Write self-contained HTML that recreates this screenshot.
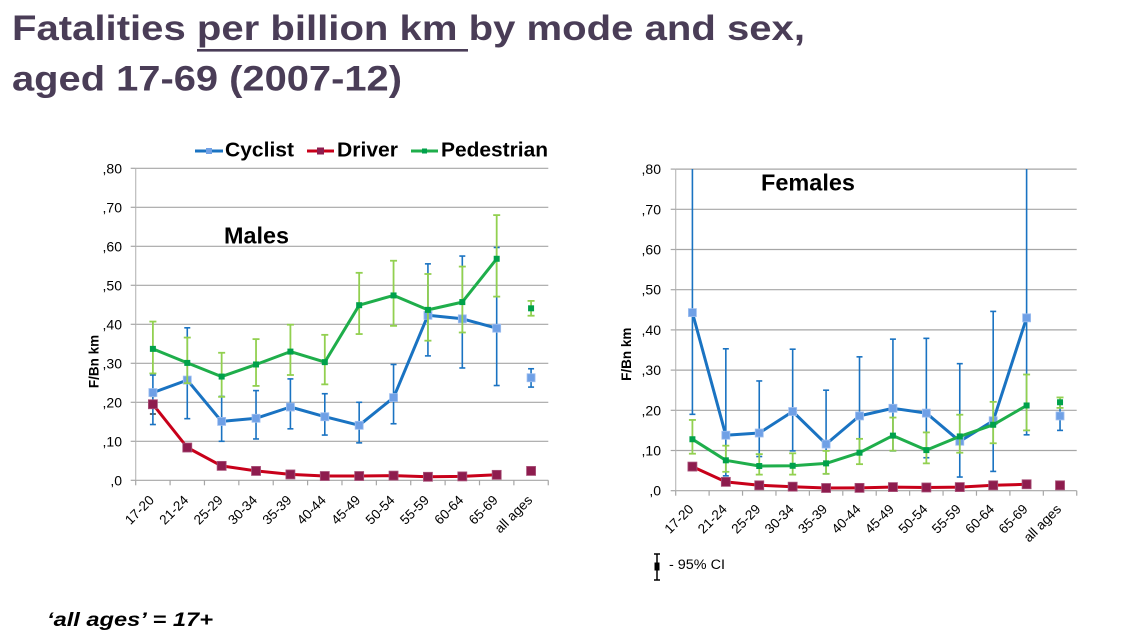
<!DOCTYPE html>
<html><head><meta charset="utf-8"><style>
html,body{margin:0;padding:0;background:#fff;}
svg{display:block;font-family:"Liberation Sans",Arial,sans-serif;}
</style></head><body>
<svg id="s" xmlns="http://www.w3.org/2000/svg" width="1132" height="636" viewBox="0 0 1132 636">
<rect x="0" y="0" width="1132" height="636" fill="#fff"/>
<!-- Title -->
<g fill="#4a3d57" font-weight="bold" font-size="35">
<text x="12" y="40" textLength="793" lengthAdjust="spacingAndGlyphs">Fatalities per billion km by mode and sex,</text>
<text x="12" y="90.7" textLength="390" lengthAdjust="spacingAndGlyphs">aged 17-69 (2007-12)</text>
<rect x="197" y="49" width="271" height="2.6"/>
</g>
<g id="charts"></g>
<!-- Legend -->
<g font-weight="bold" font-size="20" fill="#000">
<line x1="195" y1="151" x2="223" y2="151" stroke="#1a73c2" stroke-width="3"/>
<rect x="206" y="148" width="6" height="6" fill="#6fa0e6"/>
<text x="225" y="156.5" textLength="69" lengthAdjust="spacingAndGlyphs">Cyclist</text>
<line x1="307" y1="151" x2="334" y2="151" stroke="#c8001a" stroke-width="3"/>
<rect x="317" y="147.5" width="7" height="7" fill="#8e1c4e"/>
<text x="337" y="156.5" textLength="61" lengthAdjust="spacingAndGlyphs">Driver</text>
<line x1="411" y1="151" x2="438" y2="151" stroke="#1fae4b" stroke-width="3"/>
<rect x="422" y="148.5" width="5" height="5" fill="#00a14b"/>
<text x="441" y="156.5" textLength="107" lengthAdjust="spacingAndGlyphs">Pedestrian</text>
</g>
<!-- Chart titles -->
<g font-weight="bold" font-size="23" fill="#000">
<text x="224" y="243.3" textLength="65" lengthAdjust="spacingAndGlyphs">Males</text>
<text x="761" y="190.7" textLength="94" lengthAdjust="spacingAndGlyphs">Females</text>
</g>
<!-- Y tick labels -->
<g font-size="14" fill="#000" text-anchor="end">
<text x="122" y="485.3">,0</text>
<text x="122" y="446.3">,10</text>
<text x="122" y="407.3">,20</text>
<text x="122" y="368.3">,30</text>
<text x="122" y="329.3">,40</text>
<text x="122" y="290.3">,50</text>
<text x="122" y="251.3">,60</text>
<text x="122" y="212.3">,70</text>
<text x="122" y="173.3">,80</text>
<text x="661" y="495.7">,0</text>
<text x="661" y="455.5">,10</text>
<text x="661" y="415.3">,20</text>
<text x="661" y="375.1">,30</text>
<text x="661" y="334.9">,40</text>
<text x="661" y="294.7">,50</text>
<text x="661" y="254.5">,60</text>
<text x="661" y="214.3">,70</text>
<text x="661" y="174.1">,80</text>
</g>
<!-- Y axis titles -->
<g font-weight="bold" font-size="13.5" fill="#000" text-anchor="middle">
<text transform="translate(98.5,361.5) rotate(-90)">F/Bn km</text>
<text transform="translate(631,354.2) rotate(-90)">F/Bn km</text>
</g>
<!-- X labels left -->
<g font-size="13.5" fill="#000" text-anchor="end">
<text transform="translate(154.9,501) rotate(-45)">17-20</text>
<text transform="translate(189.3,501) rotate(-45)">21-24</text>
<text transform="translate(223.7,501) rotate(-45)">25-29</text>
<text transform="translate(258.0,501) rotate(-45)">30-34</text>
<text transform="translate(292.4,501) rotate(-45)">35-39</text>
<text transform="translate(326.8,501) rotate(-45)">40-44</text>
<text transform="translate(361.2,501) rotate(-45)">45-49</text>
<text transform="translate(395.6,501) rotate(-45)">50-54</text>
<text transform="translate(429.9,501) rotate(-45)">55-59</text>
<text transform="translate(464.3,501) rotate(-45)">60-64</text>
<text transform="translate(498.7,501) rotate(-45)">65-69</text>
<text transform="translate(533.1,501) rotate(-45)">all ages</text>
<text transform="translate(694.4,510) rotate(-45)">17-20</text>
<text transform="translate(727.8,510) rotate(-45)">21-24</text>
<text transform="translate(761.3,510) rotate(-45)">25-29</text>
<text transform="translate(794.7,510) rotate(-45)">30-34</text>
<text transform="translate(828.1,510) rotate(-45)">35-39</text>
<text transform="translate(861.5,510) rotate(-45)">40-44</text>
<text transform="translate(894.9,510) rotate(-45)">45-49</text>
<text transform="translate(928.4,510) rotate(-45)">50-54</text>
<text transform="translate(961.8,510) rotate(-45)">55-59</text>
<text transform="translate(995.2,510) rotate(-45)">60-64</text>
<text transform="translate(1028.6,510) rotate(-45)">65-69</text>
<text transform="translate(1062.0,510) rotate(-45)">all ages</text>
</g>
<!-- 95% CI legend -->
<g>
<line x1="657" y1="554" x2="657" y2="580" stroke="#000" stroke-width="1.5"/>
<line x1="654" y1="554" x2="660" y2="554" stroke="#000" stroke-width="1.5"/>
<line x1="654" y1="580" x2="660" y2="580" stroke="#000" stroke-width="1.5"/>
<rect x="654.5" y="562.5" width="5" height="8" fill="#000"/>
<text x="669" y="569" font-size="13.5" fill="#000" textLength="56" lengthAdjust="spacingAndGlyphs">- 95% CI</text>
</g>
<!-- Footer -->
<text x="47" y="626" font-size="19" font-weight="bold" font-style="italic" fill="#000" textLength="166" lengthAdjust="spacingAndGlyphs">‘all ages’ = 17+</text>
</svg>
<script>
(function(){
var NS='http://www.w3.org/2000/svg';
var root=document.getElementById('charts');
function el(tag,a,p){var e=document.createElementNS(NS,tag);for(var k in a)e.setAttribute(k,a[k]);(p||root).appendChild(e);return e;}
function chart(c){
  var g=el('g',{});
  function cx(i){return c.x0+c.w*(i+0.5);}
  function cy(v){return Math.max(c.top,c.y0-v*c.k);}
  // grid
  for(var j=1;j<=8;j++){var y=c.y0-j*0.1*c.k;el('line',{x1:c.x0,x2:c.right,y1:y,y2:y,stroke:'#a6a6a6','stroke-width':1.2},g);}
  el('line',{x1:c.x0,x2:c.right,y1:c.y0,y2:c.y0,stroke:'#a6a6a6','stroke-width':1.2},g);
  el('line',{x1:c.x0,x2:c.x0,y1:c.top,y2:c.y0,stroke:'#bcbcbc','stroke-width':1.2},g);
  for(var j=0;j<=8;j++){var y=c.y0-j*0.1*c.k;el('line',{x1:c.x0-5,x2:c.x0,y1:y,y2:y,stroke:'#a6a6a6','stroke-width':1.2},g);}
  for(var i=0;i<=12;i++){var x=c.x0+c.w*i;el('line',{x1:x,x2:x,y1:c.y0,y2:c.y0+5,stroke:'#a6a6a6','stroke-width':1.2},g);}
  function eb(d,col,sw,cap){
    d.forEach(function(r,i){var x=cx(i),yl=cy(r[1]),yh=cy(r[2]);
      el('line',{x1:x,x2:x,y1:yl,y2:yh,stroke:col,'stroke-width':sw},g);
      el('line',{x1:x-cap,x2:x+cap,y1:yl,y2:yl,stroke:col,'stroke-width':sw},g);
      if(r[2]<0.8)el('line',{x1:x-cap,x2:x+cap,y1:yh,y2:yh,stroke:col,'stroke-width':sw},g);});
  }
  function line(vals,col,sw){var pts=[];for(var i=0;i<11;i++)pts.push(cx(i).toFixed(1)+','+cy(vals[i]).toFixed(1));
    el('polyline',{points:pts.join(' '),fill:'none',stroke:col,'stroke-width':sw,'stroke-linejoin':'round'},g);}
  function marks(vals,col,sz,stroke){vals.forEach(function(v,i){el('rect',{x:cx(i)-sz/2,y:cy(v)-sz/2,width:sz,height:sz,fill:col,stroke:stroke||'none','stroke-width':0.8},g);});}
  // driver small black CI at 17-20
  if(c.dci){var x=cx(0);el('line',{x1:x,x2:x,y1:cy(c.dci[0]),y2:cy(c.dci[1]),stroke:'#000','stroke-width':1.2},g);
    el('line',{x1:x-3,x2:x+3,y1:cy(c.dci[0]),y2:cy(c.dci[0]),stroke:'#000','stroke-width':1.2},g);
    el('line',{x1:x-3,x2:x+3,y1:cy(c.dci[1]),y2:cy(c.dci[1]),stroke:'#000','stroke-width':1.2},g);}
  // cyclist
  eb(c.cyc,'#1a73c2',1.6,3);
  line(c.cyc.map(function(r){return r[0];}),'#1a73c2',3);
  marks(c.cyc.map(function(r){return r[0];}),'#6fa0e6',8,'#9fbff0');
  // driver
  line(c.drv,'#c8001a',3);
  marks(c.drv,'#8e1c4e',9,'#a8537a');
  // pedestrian
  eb(c.ped,'#92d050',1.8,3.5);
  line(c.ped.map(function(r){return r[0];}),'#1fae4b',3);
  marks(c.ped.map(function(r){return r[0];}),'#00a14b',6);
}
chart({x0:135.7,w:34.38,y0:480.3,k:390,top:168.3,right:548.3,dci:[0.17,0.215],
 cyc:[[0.225,0.143,0.27],[0.257,0.158,0.391],[0.151,0.10,0.215],[0.159,0.106,0.23],[0.188,0.132,0.26],[0.163,0.116,0.222],[0.141,0.096,0.20],[0.212,0.145,0.297],[0.423,0.319,0.555],[0.414,0.288,0.575],[0.39,0.243,0.597],[0.263,0.239,0.286]],
 ped:[[0.337,0.274,0.407],[0.301,0.249,0.366],[0.266,0.214,0.327],[0.297,0.242,0.362],[0.33,0.27,0.399],[0.303,0.246,0.373],[0.449,0.375,0.532],[0.474,0.396,0.563],[0.437,0.358,0.529],[0.457,0.379,0.548],[0.568,0.471,0.68],[0.441,0.422,0.46]],
 drv:[0.195,0.084,0.037,0.024,0.015,0.011,0.011,0.012,0.009,0.010,0.014,0.024]});
chart({x0:675.7,w:33.42,y0:490.7,k:402,top:169,right:1076.7,
 cyc:[[0.443,0.19,1],[0.138,0.037,0.353],[0.1435,0.085,0.273],[0.197,0.099,0.352],[0.116,0.042,0.25],[0.186,0.09,0.333],[0.205,0.099,0.377],[0.193,0.082,0.379],[0.123,0.034,0.316],[0.174,0.048,0.446],[0.43,0.139,1],[0.186,0.15,0.22]],
 ped:[[0.128,0.092,0.176],[0.0756,0.047,0.112],[0.0614,0.04,0.091],[0.062,0.04,0.093],[0.068,0.042,0.099],[0.0945,0.066,0.129],[0.137,0.0995,0.182],[0.101,0.068,0.145],[0.135,0.0945,0.189],[0.164,0.118,0.221],[0.212,0.15,0.289],[0.22,0.206,0.232]],
 drv:[0.06,0.022,0.0134,0.01,0.0067,0.007,0.009,0.008,0.009,0.0134,0.016,0.0134]});
})();
</script>
</body></html>
